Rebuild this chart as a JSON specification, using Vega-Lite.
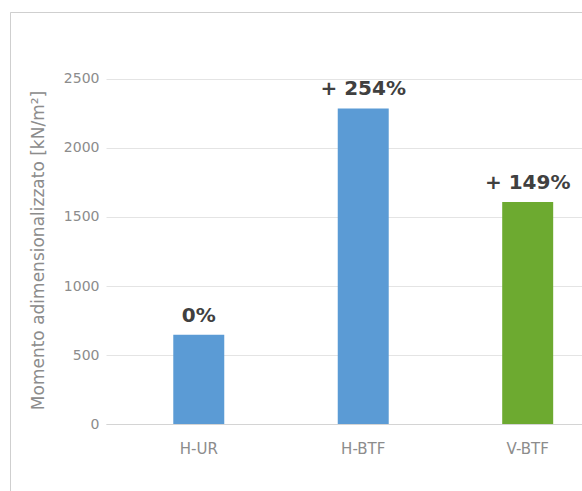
{
  "$schema": "https://vega.github.io/schema/vega-lite/v6.json",
  "autosize": {"type": "none"},
  "padding": {"left": 10, "top": 12, "right": 0, "bottom": 0},
  "width": 572,
  "height": 479,
  "background": "#ffffff",
  "config": {
    "font": "DejaVu Sans",
    "view": {"stroke": "#cfcfcf", "strokeWidth": 1, "strokeDash": [572, 1051, 479]}
  },
  "data": {
    "values": [
      {"caso": "H-UR", "momento": 646, "incremento": "0%"},
      {"caso": "H-BTF", "momento": 2287, "incremento": "+ 254%"},
      {"caso": "V-BTF", "momento": 1609, "incremento": "+ 149%"}
    ]
  },
  "encoding": {
    "x": {
      "field": "caso",
      "type": "nominal",
      "sort": null,
      "scale": {"paddingInner": 0.69, "paddingOuter": 0.584, "align": 0.85},
      "axis": {
        "title": null,
        "offset": -67,
        "domainColor": "#d4d4d4",
        "domainDash": [0, 96, 2000],
        "ticks": false,
        "tickSize": 0,
        "labelPadding": 17,
        "labelBaseline": "top",
        "labelFont": "DejaVu Sans",
        "labelFontSize": 15,
        "labelColor": "#8c8c8c",
        "labelAngle": 0
      }
    },
    "y": {
      "field": "momento",
      "type": "quantitative",
      "scale": {"domain": [-485.5, 2985.5], "nice": false, "zero": false},
      "axis": {
        "values": [0, 500, 1000, 1500, 2000, 2500],
        "format": "d",
        "domain": false,
        "ticks": false,
        "tickSize": 0,
        "grid": true,
        "gridColor": "#e4e4e4",
        "gridDash": [0, 96, 2000],
        "labelPadding": -89,
        "labelAlign": "right",
        "labelFont": "DejaVu Sans",
        "labelFontSize": 14,
        "labelColor": "#8c8c8c",
        "title": "Momento adimensionalizzato [kN/m²]",
        "titleFont": "DejaVu Sans",
        "titleFontSize": 17,
        "titleFontWeight": "normal",
        "titleColor": "#8c8c8c",
        "titleAngle": -90,
        "titleAlign": "center",
        "titleBaseline": "middle",
        "titleX": 28,
        "titleY": 238
      }
    }
  },
  "layer": [
    {
      "mark": {"type": "bar"},
      "encoding": {
        "y2": {"datum": 0},
        "color": {
          "field": "caso",
          "type": "nominal",
          "scale": {"domain": ["H-UR", "H-BTF", "V-BTF"], "range": ["#5B9BD5", "#5B9BD5", "#6DAA30"]},
          "legend": null
        }
      }
    },
    {
      "mark": {
        "type": "text",
        "baseline": "alphabetic",
        "align": "center",
        "dy": -13,
        "font": "DejaVu Sans",
        "fontSize": 20,
        "fontWeight": "bold",
        "color": "#404040"
      },
      "encoding": {"text": {"field": "incremento"}}
    }
  ]
}
